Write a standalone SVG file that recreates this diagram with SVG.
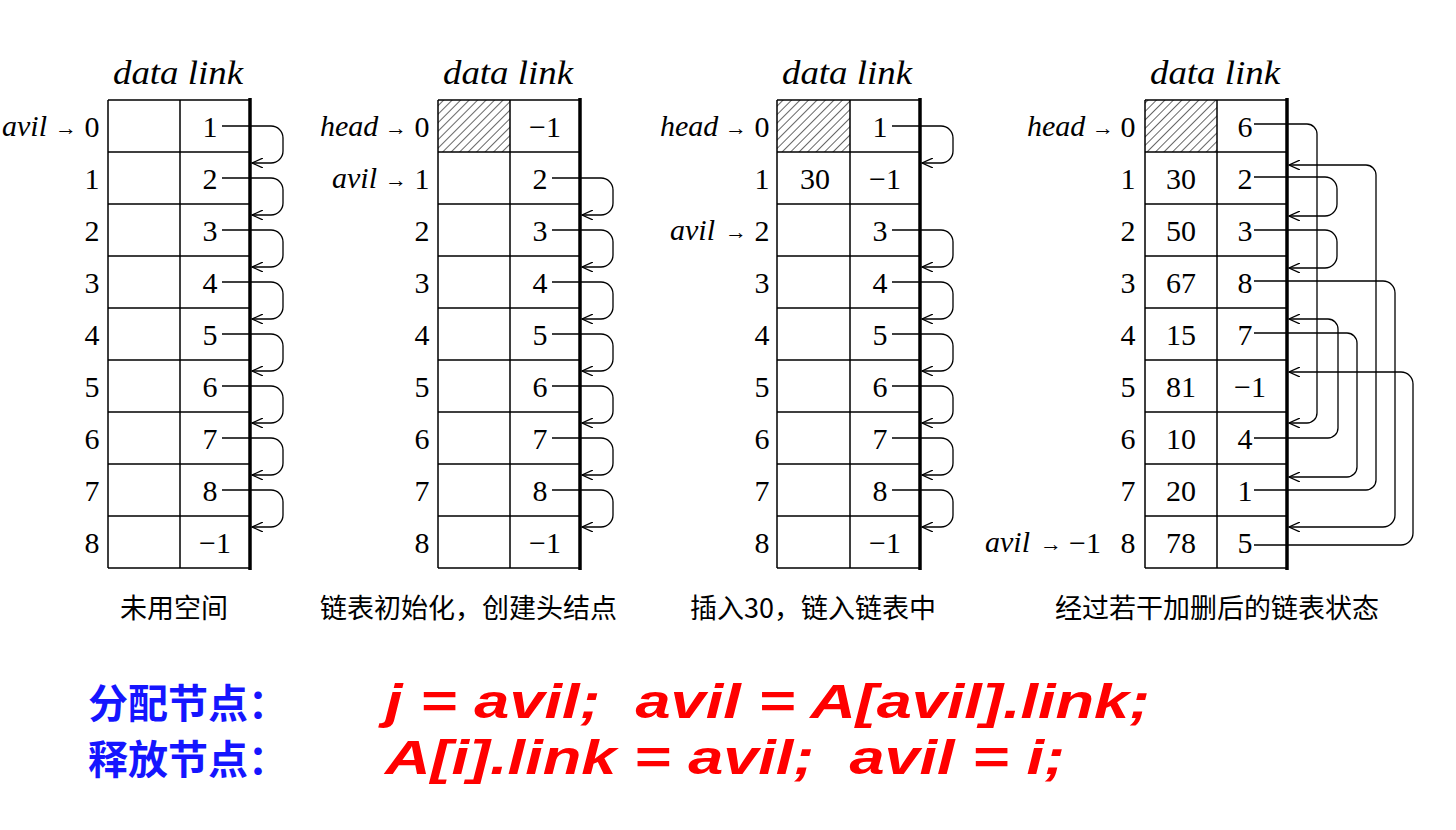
<svg xmlns="http://www.w3.org/2000/svg" width="1456" height="830" viewBox="0 0 1456 830">
<style>
.g{fill:none;stroke:#000;stroke-width:1.5}
.b{fill:none;stroke:#000;stroke-width:3.5}
.c{fill:none;stroke:#000;stroke-width:1.3}
text{font-family:"Liberation Serif",serif;fill:#000}
.n{font-size:30px;text-anchor:middle}
.i{font-size:30px;font-style:italic}
.dl{font-size:34px;font-style:italic}
.cap{font-family:"Noto Sans CJK SC",sans-serif;font-size:27px}
.bl{font-family:"Noto Sans CJK SC",sans-serif;font-size:40px;font-weight:bold;fill:#1515ff}
.rd{font-family:"Liberation Sans",sans-serif;font-size:48px;font-weight:bold;font-style:italic;fill:#ff0000}
</style>
<defs>
<marker id="ah" markerWidth="12" markerHeight="10" refX="11" refY="5" orient="auto" markerUnits="userSpaceOnUse"><path d="M0,0 L11,5 L0,10" fill="none" stroke="#000" stroke-width="1.3"/></marker>
<pattern id="hatch" width="6" height="6" patternUnits="userSpaceOnUse" patternTransform="rotate(45)"><rect width="6" height="6" fill="#fff"/><line x1="0" y1="0" x2="0" y2="6" stroke="#000" stroke-width="1.2"/></pattern>
</defs>
<rect width="1456" height="830" fill="#fff"/>

<g id="t1">
<text class="dl" x="113" y="84" textLength="130" lengthAdjust="spacingAndGlyphs">data link</text>
<path class="g" d="M108,100H250M108,152H250M108,204H250M108,256H250M108,308H250M108,360H250M108,412H250M108,464H250M108,516H250M108,568H250M108,100V568M180,100V568"/>
<path class="b" d="M250,98V570"/>
<text class="i" x="2" y="136">avil</text><text x="55" y="135" style="font-size:22px">→</text>
<g class="n"><text x="92" y="137">0</text><text x="92" y="189">1</text><text x="92" y="241">2</text><text x="92" y="293">3</text><text x="92" y="345">4</text><text x="92" y="397">5</text><text x="92" y="449">6</text><text x="92" y="501">7</text><text x="92" y="553">8</text>
<text x="210" y="137">1</text><text x="210" y="189">2</text><text x="210" y="241">3</text><text x="210" y="293">4</text><text x="210" y="345">5</text><text x="210" y="397">6</text><text x="210" y="449">7</text><text x="210" y="501">8</text><text x="215" y="553">−1</text></g>
<text class="cap" x="120" y="618">未用空间</text>
</g>

<g id="t2">
<text class="dl" x="443" y="84" textLength="130" lengthAdjust="spacingAndGlyphs">data link</text>
<rect x="438" y="100" width="72" height="52" fill="url(#hatch)"/>
<path class="g" d="M438,100H580M438,152H580M438,204H580M438,256H580M438,308H580M438,360H580M438,412H580M438,464H580M438,516H580M438,568H580M438,100V568M510,100V568"/>
<path class="b" d="M580,98V570"/>
<text class="i" x="320" y="136">head</text><text x="385" y="135" style="font-size:22px">→</text>
<text class="i" x="332" y="188">avil</text><text x="385" y="187" style="font-size:22px">→</text>
<g class="n"><text x="422" y="137">0</text><text x="422" y="189">1</text><text x="422" y="241">2</text><text x="422" y="293">3</text><text x="422" y="345">4</text><text x="422" y="397">5</text><text x="422" y="449">6</text><text x="422" y="501">7</text><text x="422" y="553">8</text>
<text x="545" y="137">−1</text><text x="540" y="189">2</text><text x="540" y="241">3</text><text x="540" y="293">4</text><text x="540" y="345">5</text><text x="540" y="397">6</text><text x="540" y="449">7</text><text x="540" y="501">8</text><text x="545" y="553">−1</text></g>
<text class="cap" x="320" y="618">链表初始化，创建头结点</text>
</g>

<g id="t3">
<text class="dl" x="782" y="84" textLength="130" lengthAdjust="spacingAndGlyphs">data link</text>
<rect x="777" y="100" width="73" height="52" fill="url(#hatch)"/>
<path class="g" d="M777,100H920M777,152H920M777,204H920M777,256H920M777,308H920M777,360H920M777,412H920M777,464H920M777,516H920M777,568H920M777,100V568M850,100V568"/>
<path class="b" d="M920,98V570"/>
<text class="i" x="660" y="136">head</text><text x="725" y="135" style="font-size:22px">→</text>
<text class="i" x="670" y="240">avil</text><text x="725" y="239" style="font-size:22px">→</text>
<g class="n"><text x="762" y="137">0</text><text x="762" y="189">1</text><text x="762" y="241">2</text><text x="762" y="293">3</text><text x="762" y="345">4</text><text x="762" y="397">5</text><text x="762" y="449">6</text><text x="762" y="501">7</text><text x="762" y="553">8</text>
<text x="815" y="189">30</text>
<text x="880" y="137">1</text><text x="885" y="189">−1</text><text x="880" y="241">3</text><text x="880" y="293">4</text><text x="880" y="345">5</text><text x="880" y="397">6</text><text x="880" y="449">7</text><text x="880" y="501">8</text><text x="885" y="553">−1</text></g>
<text class="cap" x="690" y="618">插入30，链入链表中</text>
</g>

<g id="t4">
<text class="dl" x="1150" y="84" textLength="130" lengthAdjust="spacingAndGlyphs">data link</text>
<rect x="1145" y="100" width="72" height="52" fill="url(#hatch)"/>
<path class="g" d="M1145,100H1287M1145,152H1287M1145,204H1287M1145,256H1287M1145,308H1287M1145,360H1287M1145,412H1287M1145,464H1287M1145,516H1287M1145,568H1287M1145,100V568M1217,100V568"/>
<path class="b" d="M1287,98V570"/>
<text class="i" x="1027" y="136">head</text><text x="1092" y="135" style="font-size:22px">→</text>
<text class="i" x="985" y="552">avil</text><text x="1040" y="551" style="font-size:22px">→</text><text class="n" x="1085" y="553">−1</text>
<g class="n"><text x="1128" y="137">0</text><text x="1128" y="189">1</text><text x="1128" y="241">2</text><text x="1128" y="293">3</text><text x="1128" y="345">4</text><text x="1128" y="397">5</text><text x="1128" y="449">6</text><text x="1128" y="501">7</text><text x="1128" y="553">8</text>
<text x="1181" y="189">30</text><text x="1181" y="241">50</text><text x="1181" y="293">67</text><text x="1181" y="345">15</text><text x="1181" y="397">81</text><text x="1181" y="449">10</text><text x="1181" y="501">20</text><text x="1181" y="553">78</text>
<text x="1245" y="137">6</text><text x="1245" y="189">2</text><text x="1245" y="241">3</text><text x="1245" y="293">8</text><text x="1245" y="345">7</text><text x="1250" y="397">−1</text><text x="1245" y="449">4</text><text x="1245" y="501">1</text><text x="1245" y="553">5</text></g>
<text class="cap" x="1055" y="618">经过若干加删后的链表状态</text>
</g>

<g id="connectors" class="c">
<path marker-end="url(#ah)" d="M222,126H271a12,12 0 0 1 12,12V151a12,12 0 0 1 -12,12H252"/>
<path marker-end="url(#ah)" d="M222,178H271a12,12 0 0 1 12,12V203a12,12 0 0 1 -12,12H252"/>
<path marker-end="url(#ah)" d="M222,230H271a12,12 0 0 1 12,12V255a12,12 0 0 1 -12,12H252"/>
<path marker-end="url(#ah)" d="M222,282H271a12,12 0 0 1 12,12V307a12,12 0 0 1 -12,12H252"/>
<path marker-end="url(#ah)" d="M222,334H271a12,12 0 0 1 12,12V359a12,12 0 0 1 -12,12H252"/>
<path marker-end="url(#ah)" d="M222,386H271a12,12 0 0 1 12,12V411a12,12 0 0 1 -12,12H252"/>
<path marker-end="url(#ah)" d="M222,438H271a12,12 0 0 1 12,12V463a12,12 0 0 1 -12,12H252"/>
<path marker-end="url(#ah)" d="M222,490H271a12,12 0 0 1 12,12V515a12,12 0 0 1 -12,12H252"/>
<path marker-end="url(#ah)" d="M552,178H601a12,12 0 0 1 12,12V203a12,12 0 0 1 -12,12H582"/>
<path marker-end="url(#ah)" d="M552,230H601a12,12 0 0 1 12,12V255a12,12 0 0 1 -12,12H582"/>
<path marker-end="url(#ah)" d="M552,282H601a12,12 0 0 1 12,12V307a12,12 0 0 1 -12,12H582"/>
<path marker-end="url(#ah)" d="M552,334H601a12,12 0 0 1 12,12V359a12,12 0 0 1 -12,12H582"/>
<path marker-end="url(#ah)" d="M552,386H601a12,12 0 0 1 12,12V411a12,12 0 0 1 -12,12H582"/>
<path marker-end="url(#ah)" d="M552,438H601a12,12 0 0 1 12,12V463a12,12 0 0 1 -12,12H582"/>
<path marker-end="url(#ah)" d="M552,490H601a12,12 0 0 1 12,12V515a12,12 0 0 1 -12,12H582"/>
<path marker-end="url(#ah)" d="M892,126H941a12,12 0 0 1 12,12V151a12,12 0 0 1 -12,12H922"/>
<path marker-end="url(#ah)" d="M892,230H941a12,12 0 0 1 12,12V255a12,12 0 0 1 -12,12H922"/>
<path marker-end="url(#ah)" d="M892,282H941a12,12 0 0 1 12,12V307a12,12 0 0 1 -12,12H922"/>
<path marker-end="url(#ah)" d="M892,334H941a12,12 0 0 1 12,12V359a12,12 0 0 1 -12,12H922"/>
<path marker-end="url(#ah)" d="M892,386H941a12,12 0 0 1 12,12V411a12,12 0 0 1 -12,12H922"/>
<path marker-end="url(#ah)" d="M892,438H941a12,12 0 0 1 12,12V463a12,12 0 0 1 -12,12H922"/>
<path marker-end="url(#ah)" d="M892,490H941a12,12 0 0 1 12,12V515a12,12 0 0 1 -12,12H922"/>
<path marker-end="url(#ah)" d="M1254,124H1307a10,10 0 0 1 10,10V413a10,10 0 0 1 -10,10H1289"/>
<path marker-end="url(#ah)" d="M1254,177H1325a12,12 0 0 1 12,12V204a12,12 0 0 1 -12,12H1289"/>
<path marker-end="url(#ah)" d="M1254,230H1325a12,12 0 0 1 12,12V256a12,12 0 0 1 -12,12H1289"/>
<path marker-end="url(#ah)" d="M1254,281H1383a12,12 0 0 1 12,12V515a12,12 0 0 1 -12,12H1289"/>
<path marker-end="url(#ah)" d="M1254,438H1328a10,10 0 0 0 10,-10V329a10,10 0 0 0 -10,-10H1289"/>
<path marker-end="url(#ah)" d="M1254,333H1347a10,10 0 0 1 10,10V467a10,10 0 0 1 -10,10H1289"/>
<path marker-end="url(#ah)" d="M1254,490H1366a10,10 0 0 0 10,-10V175a10,10 0 0 0 -10,-10H1289"/>
<path marker-end="url(#ah)" d="M1254,545H1401a12,12 0 0 0 12,-12V384a12,12 0 0 0 -12,-12H1289"/>
</g>

<g id="formulas">
<text class="bl" x="88" y="718">分配节点：</text>
<text class="rd" x="385" y="718" textLength="765" lengthAdjust="spacingAndGlyphs" xml:space="preserve">j = avil;  avil = A[avil].link;</text>
<text class="bl" x="88" y="774">释放节点：</text>
<text class="rd" x="385" y="774" textLength="680" lengthAdjust="spacingAndGlyphs" xml:space="preserve">A[i].link = avil;  avil = i;</text>
</g>
</svg>
